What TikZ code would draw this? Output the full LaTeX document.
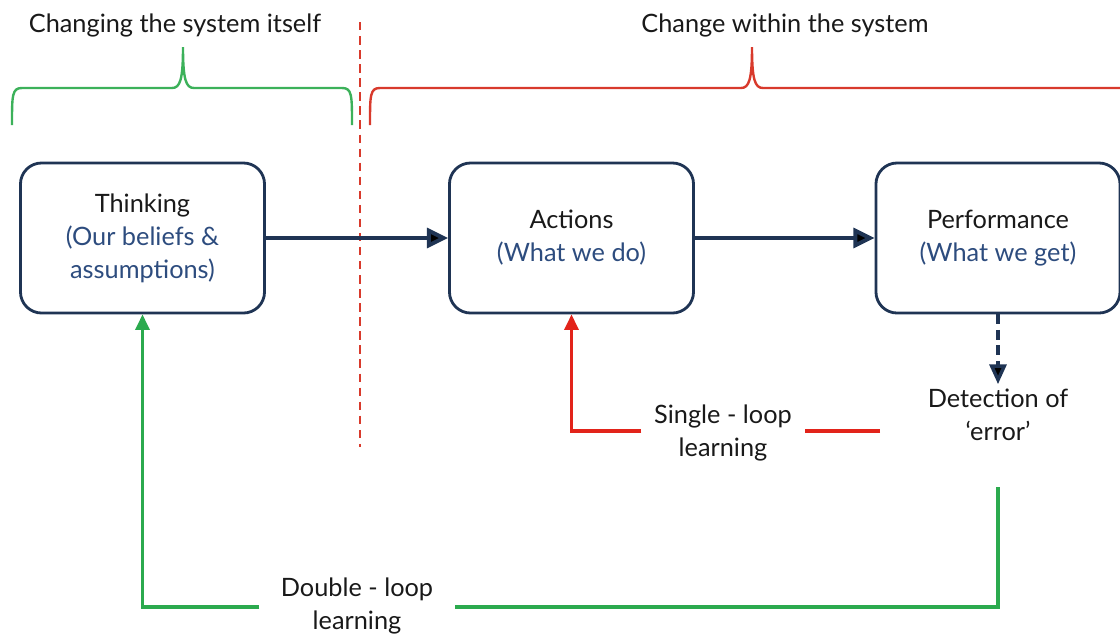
\documentclass[tikz,border=0pt]{standalone}
\usepackage{fontspec}
\setmainfont{Lato}
\usetikzlibrary{arrows.meta}
\definecolor{navy}{HTML}{1F3454}
\definecolor{textblue}{HTML}{2D4C7E}
\definecolor{loopgreen}{HTML}{2BAA4E}
\definecolor{loopred}{HTML}{E2231A}
\definecolor{bracegreen}{HTML}{3CB15A}
\definecolor{bracered}{HTML}{D83A2C}
\tikzset{stagebox/.style={shape=rectangle,draw=navy,line width=2pt,rounded corners=15pt,
		minimum width=6.1cm,minimum height=3.75cm,align=center,text=black!90},
	plain/.style={align=center,text=black!90},
	looplabel/.style={align=center,text=black!90,inner xsep=9pt,inner ysep=2pt},
	flow/.style={draw=navy,line width=2.8pt,-{Triangle[length=15pt,width=14pt]}},
	errflow/.style={draw=navy,line width=2.4pt,dashed,dash pattern=on 7pt off 4pt,-{Triangle[length=14pt,width=12pt]}},
	redloop/.style={draw=loopred,line width=2.3pt},
	greenloop/.style={draw=loopgreen,line width=2.3pt},
	sepline/.style={draw=bracered,line width=1.5pt,dash pattern=on 6pt off 4pt}}

\begin{document}
\begin{tikzpicture}[x=0.025cm,y=-0.025cm,font=\fontsize{18}{23.5}\selectfont]
	\useasboundingbox (0,0) rectangle (1120,634);
	
	% headings and braces
	\node[plain] (selfchange) at (175,25) {Changing the system itself};
	\node[plain] (withinchange) at (785,25) {Change within the system};
	\draw[bracegreen,line width=1.7pt] (12,125) .. controls (12,95) and (12,88) .. (22,88) -- (172,88)
		.. controls (180,88) and (183,80) .. (183,47) .. controls (183,80) and (186,88) .. (194,88)
		-- (342,88) .. controls (352,88) and (352,95) .. (352,125);
	\draw[bracered,line width=1.7pt] (370,125) .. controls (370,95) and (370,88) .. (380,88) -- (741,88)
		.. controls (749,88) and (752,80) .. (752,47) .. controls (752,80) and (755,88) .. (763,88)
		-- (1120,88);
	\draw[sepline] (360,22) -- (360,447);
	
	% stages
	\node[stagebox] (thinking) at (142.5,238) {Thinking\\\textcolor{textblue}{(Our beliefs \&}\\\textcolor{textblue}{assumptions)}};
	\node[stagebox] (actions) at (571.5,238) {Actions\\\textcolor{textblue}{(What we do)}};
	\node[stagebox] (performance) at (998,238) {Performance\\\textcolor{textblue}{(What we get)}};
	\node[plain] (detect) at (998,415) {Detection of\\`error'};
	\node[looplabel] (single) at (723,433) {Single - loop\\learning};
	\node[looplabel,inner xsep=15pt] (double) at (357,606) {Double - loop\\learning};
	\coordinate (sl) at (880,431);
	\coordinate (dl) at (998,487);
	
	\path [flow](thinking) edge (actions);
	\path [flow](actions) edge (performance);
	\path [errflow](performance) edge (detect);
	
	% single loop
	\draw[redloop] (sl) -- (single.east |- sl);
	\draw[redloop,-{Triangle[length=11pt,width=10pt]}] (single.west |- sl) -| (actions.south);
	% double loop
	\draw[greenloop] (dl) |- (double.east |- 0,607);
	\draw[greenloop,-{Triangle[length=11pt,width=10pt]}] (double.west |- 0,607) -| (thinking.south);
\end{tikzpicture}
\end{document}
